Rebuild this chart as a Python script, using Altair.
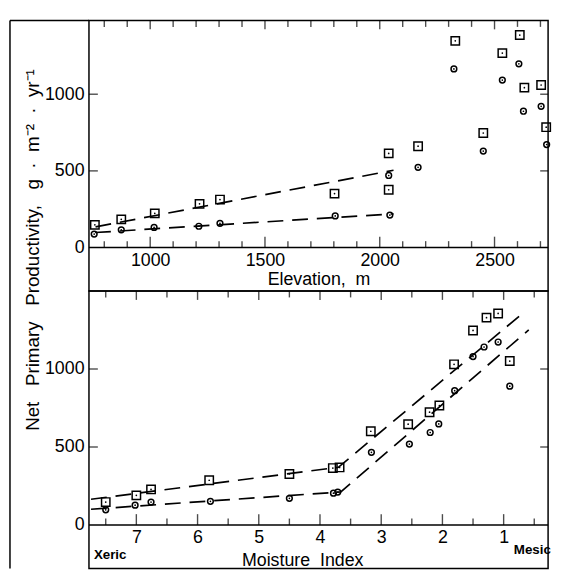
import altair as alt
import pandas as pd

# ---------------- data ----------------
# Upper panel: productivity vs elevation
elev_square = [759, 874, 1020, 1215, 1304, 1803, 2039, 2039, 2167, 2329, 2451, 2534, 2610, 2630, 2703, 2725]
npp_square_elev = [148, 184, 223, 285, 313, 352, 377, 614, 661, 1348, 747, 1268, 1386, 1043, 1060, 785]
elev_circle = [756, 874, 1017, 1212, 1304, 1806, 2044, 2039, 2167, 2323, 2451, 2534, 2606, 2626, 2703, 2727]
npp_circle_elev = [88, 116, 131, 139, 158, 206, 212, 470, 523, 1165, 629, 1092, 1198, 889, 921, 672]

fit_elev_upper_x = [762, 2060]
fit_elev_upper_y = [135, 504]
fit_elev_lower_x = [760, 2060]
fit_elev_lower_y = [98, 220]

# Lower panel: productivity vs moisture index
mi_square = [7.5, 7.0, 6.76, 5.81, 4.50, 3.79, 3.68, 3.17, 2.56, 2.21, 2.05, 1.81, 1.50, 1.28, 1.09, 0.90]
npp_square_mi = [147, 190, 228, 287, 327, 365, 369, 601, 646, 723, 766, 1030, 1247, 1329, 1356, 1051]
mi_circle = [7.5, 7.02, 6.76, 5.79, 4.50, 3.78, 3.71, 3.16, 2.54, 2.20, 2.06, 1.80, 1.50, 1.32, 1.09, 0.90]
npp_circle_mi = [97, 127, 147, 152, 171, 204, 211, 466, 519, 593, 648, 861, 1080, 1141, 1173, 890]

fit_mi_upper_x = [7.74, 3.70, 0.74]
fit_mi_upper_y = [165, 370, 1340]
fit_mi_lower_x = [7.74, 3.66, 0.59]
fit_mi_lower_y = [101, 212, 1251]

# tick values
elev_major = [1000, 1500, 2000, 2500]
elev_minor = [800, 900, 1100, 1200, 1300, 1400, 1600, 1700, 1800, 1900, 2100, 2200, 2300, 2400, 2600, 2700]
mi_major = [7, 6, 5, 4, 3, 2, 1]
mi_minor = [7.5, 6.5, 5.5, 4.5, 3.5, 2.5, 1.5, 0.5]
npp_labels = [0, 500, 1000]
npp_inner_ticks = [500, 1000]

NB = "\u00a0"
y_title = ("Net" + NB * 3 + "Primary" + NB * 3 + "Productivity," + NB * 3 + "g" + NB * 2 + "\u00b7"
           + NB * 2 + "m\u207b\u00b2" + NB * 2 + "\u00b7" + NB * 2 + "yr\u207b\u00b9")

# ---------------- layout ----------------
FONT = "Liberation Sans"
W = 465
H1, H2 = 274, 281
LEFT_OUT = -80

xs1 = alt.Scale(domain=[733.3, 733.3 + W / 0.2325], nice=False, zero=False)
ys1 = alt.Scale(domain=[-283.3, 1481], nice=False, zero=False)
xs2 = alt.Scale(domain=[7.774 - W / 62.0, 7.774], reverse=True, nice=False, zero=False)
ys2 = alt.Scale(domain=[-278.5, 1500], nice=False, zero=False)

one = pd.DataFrame({"a": [0]})

common_label = dict(ticks=False, domain=False, grid=False, labelFont=FONT, labelFontSize=18,
                    labelColor="black", labelFlush=False, labelOverlap=False, format="d")

x_axis_top = alt.Axis(values=elev_major, offset=-44, labelPadding=4,
                      title="Elevation," + NB * 2 + "m", titleFont=FONT, titleFontSize=18,
                      titleFontWeight="normal", titleColor="black", titleBaseline="alphabetic",
                      titleAlign="center", titleX=W / 2, titleY=37, **common_label)
y_axis_top = alt.Axis(values=npp_labels, labelPadding=5, title=y_title, titleFont=FONT,
                      titleFontSize=19, titleFontWeight="normal", titleColor="black",
                      titleAngle=270, titleX=-57, titleY=232, titleAlign="center",
                      titleBaseline="middle", **common_label)
x_axis_bot = alt.Axis(values=mi_major, offset=-44, labelPadding=4,
                      title="Moisture" + NB * 2 + "Index", titleFont=FONT, titleFontSize=18,
                      titleFontWeight="normal", titleColor="black", titleBaseline="alphabetic",
                      titleAlign="center", titleX=216, titleY=41, **common_label)
y_axis_bot = alt.Axis(values=npp_labels, labelPadding=5, title="", **common_label)


def decorations(xs, ys, xa, ya, major, minor, H, with_top_outer):
    layers = []
    # x axis line at zero
    layers.append(
        alt.Chart(pd.DataFrame({"v": [0]})).mark_rule(color="black", strokeWidth=1.5).encode(
            y=alt.Y("v:Q", scale=ys, axis=ya), x=alt.value(0), x2=alt.value(W)))
    for vals, ln_b, ln_t in ((major, 11, 9), (minor, 6.5, 6.5)):
        df = pd.DataFrame({"t": vals, "v": [0] * len(vals)})
        layers.append(
            alt.Chart(df).mark_tick(orient="vertical", size=ln_b, thickness=1.4, yOffset=-ln_b / 2,
                                    color="black").encode(
                x=alt.X("t:Q", scale=xs, axis=xa), y=alt.Y("v:Q", scale=ys, axis=ya)))
        layers.append(
            alt.Chart(df).mark_tick(orient="vertical", size=ln_t, thickness=1.4, yOffset=ln_t / 2,
                                    color="black").encode(
                x=alt.X("t:Q", scale=xs, axis=xa), y=alt.value(0)))
    tdf = pd.DataFrame({"v": npp_inner_ticks})
    layers.append(
        alt.Chart(tdf).mark_tick(orient="horizontal", size=9, thickness=1.4, xOffset=4.5,
                                 color="black").encode(
            x=alt.value(0), y=alt.Y("v:Q", scale=ys, axis=ya)))
    layers.append(
        alt.Chart(tdf).mark_tick(orient="horizontal", size=8, thickness=1.4, xOffset=-4,
                                 color="black").encode(
            x=alt.value(W), y=alt.Y("v:Q", scale=ys, axis=ya)))
    # outer frame
    layers.append(
        alt.Chart(one).mark_rule(color="black", strokeWidth=1.5).encode(
            x=alt.value(LEFT_OUT), y=alt.value(0), y2=alt.value(H)))
    if with_top_outer:
        layers.append(
            alt.Chart(one).mark_rule(color="black", strokeWidth=1.5).encode(
                x=alt.value(LEFT_OUT), x2=alt.value(0), y=alt.value(0)))
    return layers


def markers(x, y, xs, ys, xa, ya, shape, size):
    df = pd.DataFrame({"x": x, "y": y})
    ring = alt.Chart(df).mark_point(shape=shape, size=size, filled=False, strokeWidth=1.5,
                                    color="black", opacity=1).encode(
        x=alt.X("x:Q", scale=xs, axis=xa), y=alt.Y("y:Q", scale=ys, axis=ya))
    dot = alt.Chart(df).mark_point(shape="circle", size=3, filled=True, color="black",
                                   opacity=1).encode(
        x=alt.X("x:Q", scale=xs, axis=xa), y=alt.Y("y:Q", scale=ys, axis=ya))
    return [ring, dot]


def fit_lines(xu, yu, xl, yl, xs, ys, xa, ya):
    df = pd.DataFrame({"x": xu + xl, "y": yu + yl,
                       "g": ["upper"] * len(xu) + ["lower"] * len(xl)})
    return alt.Chart(df).mark_line(color="black", strokeWidth=1.7, strokeDash=[16, 9]).encode(
        x=alt.X("x:Q", scale=xs, axis=xa), y=alt.Y("y:Q", scale=ys, axis=ya),
        detail="g:N")


top_layers = (markers(elev_square, npp_square_elev, xs1, ys1, x_axis_top, y_axis_top, "square", 72)
              + markers(elev_circle, npp_circle_elev, xs1, ys1, x_axis_top, y_axis_top, "circle", 34)
              + [fit_lines(fit_elev_upper_x, fit_elev_upper_y, fit_elev_lower_x, fit_elev_lower_y,
                           xs1, ys1, x_axis_top, y_axis_top)]
              + decorations(xs1, ys1, x_axis_top, y_axis_top, elev_major, elev_minor, H1, True))
top = alt.layer(*top_layers).properties(width=W, height=H1)

ends = pd.DataFrame({"label": ["Xeric", "Mesic"]})
xeric = alt.Chart(ends.iloc[[0]]).mark_text(font=FONT, fontSize=13.5, fontWeight="bold",
                                            align="left", baseline="middle", color="black").encode(
    text="label:N", x=alt.value(5), y=alt.value(267))
mesic = alt.Chart(ends.iloc[[1]]).mark_text(font=FONT, fontSize=13.5, fontWeight="bold",
                                            align="center", baseline="middle", color="black").encode(
    text="label:N", x=alt.value(449), y=alt.value(262))

bot_layers = (markers(mi_square, npp_square_mi, xs2, ys2, x_axis_bot, y_axis_bot, "square", 72)
              + markers(mi_circle, npp_circle_mi, xs2, ys2, x_axis_bot, y_axis_bot, "circle", 34)
              + [fit_lines(fit_mi_upper_x, fit_mi_upper_y, fit_mi_lower_x, fit_mi_lower_y,
                           xs2, ys2, x_axis_bot, y_axis_bot)]
              + decorations(xs2, ys2, x_axis_bot, y_axis_bot, mi_major, mi_minor, H2, False)
              + [xeric, mesic])
bottom = alt.layer(*bot_layers).properties(width=W, height=H2)

chart = alt.vconcat(top, bottom, spacing=0, bounds="flush",
                    padding={"left": 0, "top": 7, "right": 0, "bottom": 0}).configure_view(
    stroke="black", strokeWidth=1.5)

chart.save("out.html", embed_options={"renderer": "svg", "actions": False})
